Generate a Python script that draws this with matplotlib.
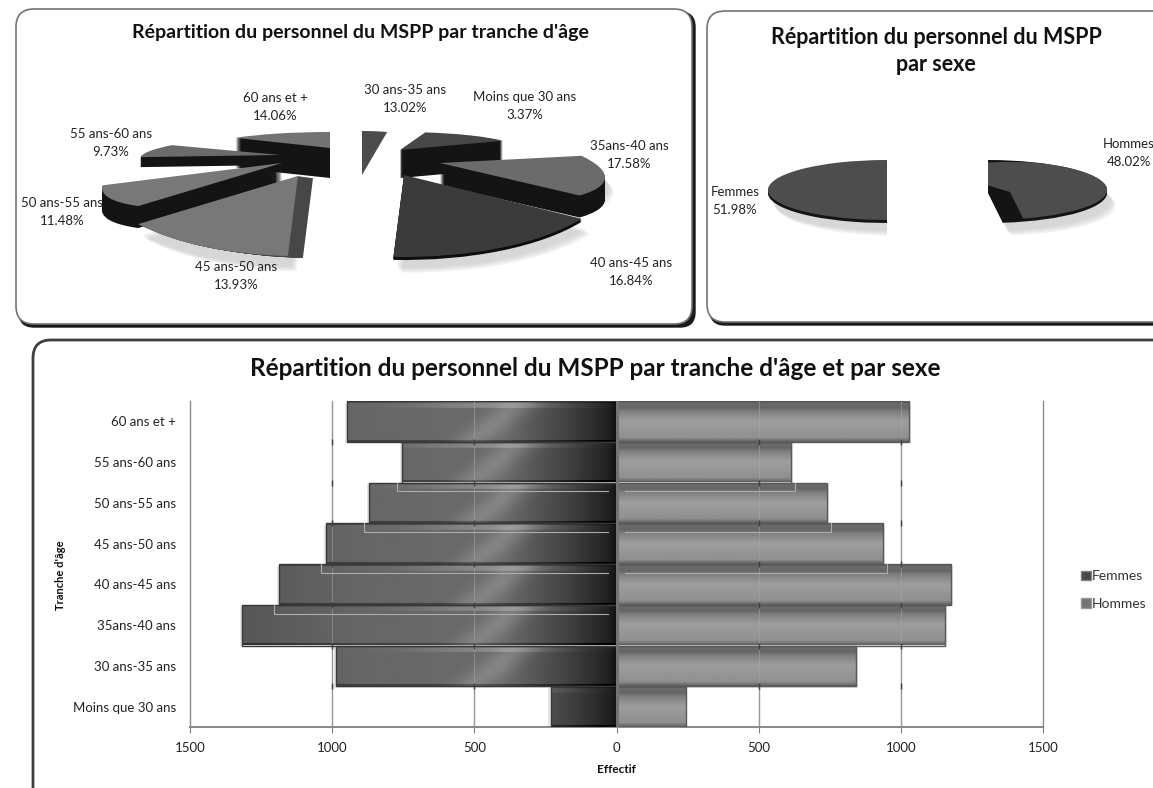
import numpy as np
import matplotlib
matplotlib.use("Agg")
import matplotlib.pyplot as plt
from matplotlib.patches import FancyBboxPatch, Wedge, Patch, Rectangle
from matplotlib.transforms import Affine2D

plt.rcParams["font.family"] = ["Lato", "DejaVu Sans"]

# Données
ages = ["Moins que 30 ans", "30 ans-35 ans", "35ans-40 ans", "40 ans-45 ans",
        "45 ans-50 ans", "50 ans-55 ans", "55 ans-60 ans", "60 ans et +"]
age_pct = [3.37, 13.02, 17.58, 16.84, 13.93, 11.48, 9.73, 14.06]
sexes = ["Hommes", "Femmes"]
sex_pct = [48.02, 51.98]
femmes = [232, 987, 1317, 1187, 1022, 871, 755, 948]
hommes = [243, 842, 1155, 1176, 937, 740, 613, 1028]
x_ticks = [-1500, -1000, -500, 0, 500, 1000, 1500]

# Mise en page des parts (pixels) : x, y, rx, ry, inclinaison, ext_x, ext_y, gris dessus, gris côté, ordre, ombre
age_geom = [
    (362, 175, 120, 44, 0, 0, 0, .30, .10, 0, 0),
    (400, 150, 120, 18, 0, 0, 28, .28, .08, 2, 0),
    (440, 163, 165, 38, 5, 0, 22, .42, .08, 5, 1),
    (404, 175, 210, 82, 0, 0, 3, .23, .05, 7, 1),
    (298, 176, 200, 80, 0, 15, 2, .47, .28, 6, 1),
    (282, 163, 180, 38, -8, 0, 22, .47, .08, 4, 1),
    (280, 155, 140, 20, -1.5, 0, 10, .42, .08, 3, 0),
    (330, 148, 122, 16, 0, 0, 30, .45, .08, 1, 0),
]
sex_geom = [
    (988, 190, 119, 30, 0, 0, 3, .08, .08, 1, 1),
    (887, 190, 119, 30, 0, 0, 3, .30, .08, 0, 1),
]
age_labels = [(525, 106), (405, 99), (629, 155), (631, 272),
              (236, 276), (62, 212), (111, 143), (275, 107)]
sex_labels = [(1129, 153), (735, 201)]


def slice_tr(ax, g, dx=0, dy=0):
    x, y, rx, ry, tilt = g[:5]
    return Affine2D().scale(rx, -ry).skew_deg(0, tilt).translate(x + dx, y + dy) + ax.transData


def draw_pie(ax, values, geom, clips=None):
    wedges, _ = ax.pie(values, startangle=90, counterclock=False, radius=1)
    for i, (w, g) in enumerate(zip(wedges, geom)):
        ext_x, ext_y, top, side, order, shadow = g[5:]
        z = 10 + order * 10
        w.set_transform(slice_tr(ax, g))
        w.set_facecolor(str(top))
        w.set_edgecolor("none")
        w.set_zorder(z + 2)
        parts = [w]
        # ombre portée
        if shadow:
            for k in range(4):
                s = Wedge((0, 0), 1, w.theta1, w.theta2, fc="0.7", ec="none", alpha=.16, zorder=2,
                          transform=slice_tr(ax, g, 4 + 1.5 * k, 11 + 1.5 * k))
                ax.add_patch(s)
                parts.append(s)
        # épaisseur
        n = int(max(ext_x, ext_y))
        for k in range(1, n + 1):
            s = Wedge((0, 0), 1, w.theta1, w.theta2, fc=str(side), ec="none", zorder=z + 1,
                      transform=slice_tr(ax, g, ext_x * k / n, ext_y * k / n))
            ax.add_patch(s)
            parts.append(s)
        for p in parts:
            if clips and clips[i] is not None:
                p.set_clip_on(True)
                p.set_clip_path(Rectangle(clips[i][:2], clips[i][2], clips[i][3], transform=ax.transData))
            else:
                p.set_clip_on(False)
    return wedges


def gradient_femmes(val):
    xs = np.linspace(0, val, 150)[None, :]
    ys = np.linspace(0, 1, 60)[:, None]
    t = xs / 1317
    shade = np.interp(t, [0, .02, .12, .3, .7, 1], [.07, .13, .25, .42, .4, .34])
    stripe = np.exp(-((xs - 420 - 180 * (ys - .5)) / 70) ** 2) * .1
    top = (ys < .16) * .12 * np.exp(-((xs - 440) / 260) ** 2)
    edge = (ys < .05) * -.1 + (ys > .96) * -.15
    return shade + stripe + top + edge


def gradient_hommes():
    ys = np.linspace(0, 1, 60)
    shade = np.interp(ys, [0, .05, .16, .25, .5, .9, 1], [.32, .42, .4, .5, .62, .56, .38])
    return shade[:, None]


fig = plt.figure(figsize=(11.53, 7.88), dpi=100, facecolor="white")
bg = fig.add_axes([0, 0, 1, 1])

draw_pie(bg, age_pct, age_geom)
sex_wedges = draw_pie(bg, sex_pct, sex_geom, clips=[None, (740, 140, 147, 120)])

# face claire de la part Hommes, coupée par la part sombre
w = sex_wedges[0]
face = Wedge((0, 0), 1, w.theta1, w.theta2 + 40, fc="0.30", ec="none", zorder=40,
             transform=slice_tr(bg, sex_geom[0], 22, 2))
bg.add_patch(face)
face.set_clip_path(w)

bg.set_aspect("auto")
bg.set_xlim(0, 1153)
bg.set_ylim(788, 0)
bg.axis("off")

# Cadres
for x0, y0, x1, y1, col, lw, sh in [(16, 9, 692, 324, "0.45", 1.2, 3),
                                    (707, 11, 1175, 322, "0.45", 1.2, 3),
                                    (33, 340, 1175, 810, "0.25", 2, 0)]:
    if sh:
        bg.add_patch(FancyBboxPatch((x0 + sh, y0 + sh), x1 - x0, y1 - y0, boxstyle="round,pad=0,rounding_size=15",
                                    fc="0.1", ec="0.1", lw=1, zorder=0))
    bg.add_patch(FancyBboxPatch((x0, y0), x1 - x0, y1 - y0, boxstyle="round,pad=0,rounding_size=18",
                                fc="white", ec=col, lw=lw, zorder=1))

# Titres
bg.text(360, 32, "Répartition du personnel du MSPP par tranche d'âge", ha="center", va="center",
        fontsize=14, fontweight="bold", color="#111111", zorder=100)
bg.text(936, 51, "Répartition du personnel du MSPP\npar sexe", ha="center", va="center",
        fontsize=15.5, fontweight="bold", color="#111111", linespacing=1.4, zorder=100)
bg.text(595, 368, "Répartition du personnel du MSPP par tranche d'âge et par sexe", ha="center", va="center",
        fontsize=17.5, fontweight="bold", color="#111111", zorder=100)

# Etiquettes des camemberts
for name, pct, (lx, ly) in zip(ages, age_pct, age_labels):
    bg.text(lx, ly, f"{name}\n{pct:.2f}%", ha="center", va="center", fontsize=9.5,
            color="#222222", linespacing=1.55, zorder=100)
for name, pct, (lx, ly) in zip(sexes, sex_pct, sex_labels):
    bg.text(lx, ly, f"{name}\n{pct:.2f}%", ha="center", va="center", fontsize=9.5,
            color="#222222", linespacing=1.55, zorder=100, clip_on=True)

# Pyramide des âges
ax = fig.add_axes([190 / 1153, 1 - 727 / 788, 853 / 1153, 326 / 788])
ax.patch.set_alpha(0)
y = np.arange(len(ages))
ax.barh(y - .04, [-(v + 8) for v in femmes], height=1.0, color="0.82", alpha=.6, zorder=2)
ax.barh(y - .04, [v + 6 for v in hommes], height=1.0, color="0.82", alpha=.6, zorder=2)
bars_f = ax.barh(y, [-v for v in femmes], height=1.0, facecolor="none", edgecolor="0.22", linewidth=1, zorder=4)
bars_h = ax.barh(y, hommes, height=1.0, facecolor="none", edgecolor="0.35", linewidth=1, zorder=4)
for i, (bar, v) in enumerate(zip(bars_f, femmes)):
    im = ax.imshow(gradient_femmes(v)[:, ::-1], extent=(-v, 0, i - .5, i + .5), aspect="auto",
                   cmap="gray", vmin=0, vmax=1, zorder=3)
    im.set_clip_path(bar)
for i, (bar, v) in enumerate(zip(bars_h, hommes)):
    im = ax.imshow(gradient_hommes(), extent=(0, v, i - .5, i + .5), aspect="auto",
                   cmap="gray", vmin=0, vmax=1, zorder=3)
    im.set_clip_path(bar)

# traits clairs du reflet de la barre du dessus
for i in range(len(ages) - 1):
    for vals, sign in [(femmes, -1), (hommes, 1)]:
        end = sign * (vals[i + 1] + 16)
        if abs(end) < vals[i]:
            ax.plot([sign * 30, end, end], [i + .28, i + .28, i + .5], color="0.68", lw=.8, zorder=5)

ax.set_xlim(-1500, 1500)
ax.set_ylim(-.5, len(ages) - .5)
ax.set_xticks(x_ticks)
ax.set_xticklabels([str(abs(v)) for v in x_ticks], fontsize=9.5, color="#222222")
ax.set_yticks(y)
ax.set_yticklabels(ages, fontsize=9.5, color="#222222")
ax.tick_params(axis="y", length=0, pad=10)
ax.tick_params(axis="x", length=4, color="0.5", pad=7)
for v in x_ticks:
    if v == 0:
        ax.axvline(v, color="0.45", lw=2.2, zorder=6)
    else:
        ax.axvline(v, color="0.55", lw=1, zorder=1, clip_on=False)
        if abs(v) < 1500:
            ax.axvline(v, color="0.65", lw=.7, alpha=.55, zorder=6)
            ax.plot([v] * 7, y[:-1] + .5, ls="", marker="|", ms=5, color="0.25", zorder=6)
for s in ["top", "left", "right"]:
    ax.spines[s].set_visible(False)
ax.spines["bottom"].set_color("0.5")
ax.spines["bottom"].set_linewidth(1.3)
ax.set_xlabel("Effectif", fontsize=8.5, fontweight="bold", labelpad=7, color="#111111")
ax.set_ylabel("Tranche d'âge", fontsize=8, fontweight="bold", color="#111111")
ax.yaxis.set_label_coords((66 - 190) / 853, (727 - 575) / 326)

handles = [Patch(facecolor="0.28", edgecolor="0.5", label="Femmes"),
           Patch(facecolor="0.45", edgecolor="0.6", label="Hommes")]
bg.legend(handles=handles, loc="center left", bbox_to_anchor=(1074 / 1153, 1 - 590 / 788), frameon=False,
          fontsize=10, handlelength=.7, handleheight=.7, handletextpad=.1, labelspacing=1.1, borderpad=0,
          labelcolor="#333333")

fig.savefig("out.png", dpi=100)
plt.close(fig)
